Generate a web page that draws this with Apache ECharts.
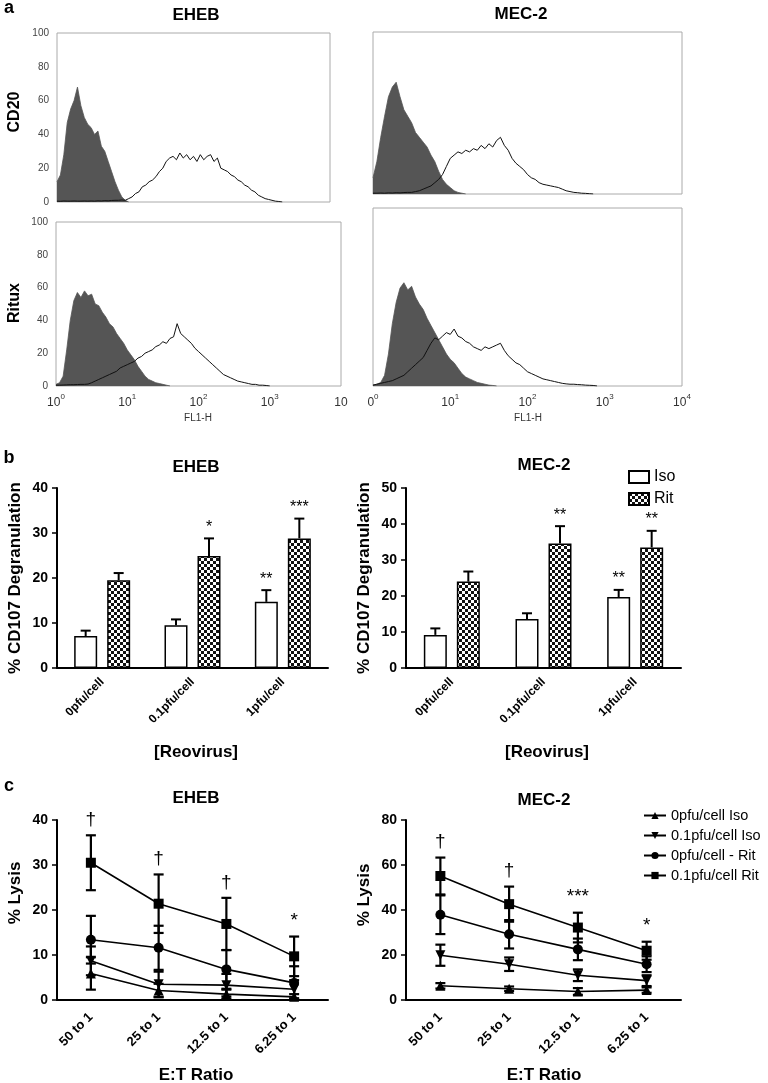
<!DOCTYPE html>
<html><head><meta charset="utf-8">
<script src="https://cdn.jsdelivr.net/npm/echarts@6/dist/echarts.min.js"></script>
<style>html,body{margin:0;padding:0;background:#fff}#c{width:768px;height:1083px}</style>
</head><body><div id="c"></div><script>
// ---------------- DATA ----------------
// Panel a: flow-cytometry histograms, FL1-H bins every 0.05 decade starting at 10^0
const HIST_STEP = 0.05;
const cd20EhebIso = [12,16,28,47,55,60,68,57,50,46,44,40,42,33,30,24,18,12,7,3,1,0];
const cd20EhebAb  = [0.5,0.4,0.6,0.5,0.5,0.6,0.5,0.5,0.6,0.5,0.6,0.5,0.7,0.6,0.8,0.7,0.9,1,1,1.2,1,2,3,5,6,9,10,12,13,15,18,20,24,26,27,25,29,26,28,25,27,24,28,25,27,28,24,26,20,19,18,16,15,13,12,10,9,7,6,4,3,2,1.5,1,0.5,0.3,0];
const cd20MecIso  = [10,20,35,48,60,66,69,60,52,48,44,38,35,32,29,24,20,14,9,6,4,2,1,0.5,0];
const cd20MecAb   = [0.5,0.5,0.6,0.5,0.7,0.6,0.8,0.7,0.9,1,1,1.5,2,3,4,5,7,9,12,17,22,24,26,25,27,26,28,27,30,28,31,29,33,35,30,27,22,19,17,15,12,10,9,7,6,5.5,5,4.5,4,3,2,1.5,1,0.8,0.5,0.4,0.2,0];
const ritEhebIso  = [1,2,6,22,40,52,57,54,58,55,56,50,49,45,42,38,36,32,29,26,22,19,16,12,9,6,4,3,2,1.5,1,0.5,0];
const ritEhebAb   = [0.5,0.5,0.6,0.7,0.8,0.8,0.9,1,1,1.2,2,3,4,5,6,7,8,9,11,12,13,14,15,17,18,20,21,22,24,25,27,26,29,30,38,32,30,28,26,23,21,19,17,15,13,11,9,7,6,5,4,3,2.5,2,1.5,1,1,0.5,0.5,0.3,0];
const ritMecIso   = [0.5,1,2,6,18,35,47,55,58,54,56,50,46,43,38,34,30,26,22,18,15,13,10,7,5,4,3,2,1.5,1,0.5,0.3,0];
const ritMecAb    = [0.5,1,1.5,2,2.5,3,4,5,6,8,10,12,14,16,20,24,27,26,28,30,29,32,28,27,25,24,22,21,20,22,21,22,23,24,20,17,15,13,12,10,8,7,6,5,4,3.5,3,2.5,2,1.5,1.2,1,1,0.8,0.7,0.5,0.4,0.3,0];
const ehebLogLabels = [['10','0'],['10','1'],['10','2'],['10','3'],['10','']];
const mecLogLabels  = [['0','0'],['10','1'],['10','2'],['10','3'],['10','4']];

// Panel b: % CD107 degranulation
const reoCats = ['0pfu/cell','0.1pfu/cell','1pfu/cell'];
const ehebIso = [7.1, 9.5, 14.7];   const ehebIsoErr = [1.2, 1.3, 2.6]; const ehebIsoSig = ['', '', '**'];
const ehebRit = [19.5, 24.9, 28.8]; const ehebRitErr = [1.6, 3.9, 4.4]; const ehebRitSig = ['', '*', '***'];
const mecIso  = [9.2, 13.6, 19.7];  const mecIsoErr  = [1.8, 1.6, 2.0]; const mecIsoSig  = ['', '', '**'];
const mecRit  = [24.0, 34.6, 33.5]; const mecRitErr  = [2.8, 4.8, 4.6]; const mecRitSig  = ['', '**', '**'];

// Panel c: % lysis
const etCats = ['50 to 1','25 to 1','12.5 to 1','6.25 to 1'];
const lysisNames = ['0pfu/cell Iso','0.1pfu/cell Iso','0pfu/cell - Rit','0.1pfu/cell Rit'];
const ehebLys0Iso  = [5.9, 2.1, 1.3, 0.7];    const ehebLys0IsoErr  = [3.6, 1.5, 1.0, 0.6];
const ehebLys01Iso = [8.7, 3.5, 3.3, 2.4];    const ehebLys01IsoErr = [3.2, 2.8, 2.5, 2.0];
const ehebLys0Rit  = [13.4, 11.6, 6.8, 3.8];  const ehebLys0RitErr  = [5.3, 4.9, 4.3, 3.7];
const ehebLys01Rit = [30.5, 21.4, 16.9, 9.7]; const ehebLys01RitErr = [6.1, 6.5, 5.8, 4.4];
const ehebLysSig = ['\u2020','\u2020','\u2020','*'];
const mecLys0Iso  = [6.3, 5.0, 3.8, 4.4];     const mecLys0IsoErr  = [1.2, 1.0, 1.5, 1.2];
const mecLys01Iso = [19.9, 15.9, 11.0, 8.6];  const mecLys01IsoErr = [4.7, 3.0, 2.6, 2.4];
const mecLys0Rit  = [37.9, 29.2, 22.5, 15.9]; const mecLys0RitErr  = [8.6, 6.3, 4.8, 3.5];
const mecLys01Rit = [55.1, 42.6, 32.2, 21.9]; const mecLys01RitErr = [8.2, 7.8, 6.6, 4.0];
const mecLysSig = ['\u2020','\u2020','***','*'];

// ---------------- STYLE / LAYOUT ----------------
const FONT = '"Liberation Sans", Arial, Helvetica, sans-serif';
const chart = echarts.init(document.getElementById('c'), null, {renderer: 'canvas'});

function checker() {
  const c = document.createElement('canvas'); c.width = 6; c.height = 6;
  const g = c.getContext('2d');
  g.fillStyle = '#fff'; g.fillRect(0, 0, 6, 6);
  g.fillStyle = '#111'; g.fillRect(0, 0, 3, 3); g.fillRect(3, 3, 3, 3);
  return c;
}
const ritFill = {image: checker(), repeat: 'repeat'};

const grids = [
  {left: 57,  top: 33,  width: 273, height: 169, show: true, borderColor: '#aaa', borderWidth: 1},
  {left: 373, top: 32,  width: 309, height: 162, show: true, borderColor: '#aaa', borderWidth: 1},
  {left: 56,  top: 222, width: 285, height: 164, show: true, borderColor: '#aaa', borderWidth: 1},
  {left: 373, top: 208, width: 309, height: 178, show: true, borderColor: '#aaa', borderWidth: 1},
  {left: 57,  top: 488, width: 271, height: 180},
  {left: 406, top: 488, width: 275, height: 180},
  {left: 57,  top: 820, width: 271, height: 180},
  {left: 406, top: 820, width: 275, height: 180}
];

function histX(i, labels) {
  return {
    type: 'value', gridIndex: i, min: 0, max: 4, interval: 1,
    axisLine: {show: false}, axisTick: {show: false}, splitLine: {show: false},
    axisLabel: labels ? {
      show: true, margin: 7, showMinLabel: true, showMaxLabel: true,
      formatter: v => { const l = labels[Math.round(v)]; return '{b|' + l[0] + '}{s|' + l[1] + '}'; },
      rich: {
        b: {fontSize: 12, color: '#333', fontFamily: FONT, lineHeight: 16, verticalAlign: 'bottom'},
        s: {fontSize: 8, color: '#333', fontFamily: FONT, lineHeight: 16, verticalAlign: 'top'}
      }
    } : {show: false}
  };
}
function histY(i, showLabels) {
  return {
    type: 'value', gridIndex: i, min: 0, max: 100, interval: 20,
    axisLine: {show: false}, axisTick: {show: false}, splitLine: {show: false},
    axisLabel: {show: showLabels, fontSize: 10, color: '#444', margin: 8, fontFamily: FONT}
  };
}
function catX(i, cats, fs, margin) {
  return {
    type: 'category', gridIndex: i, data: cats,
    axisLine: {lineStyle: {color: '#000', width: 2}},
    axisTick: {alignWithLabel: true, length: 5, lineStyle: {color: '#000', width: 1.5}},
    axisLabel: {rotate: 45, interval: 0, fontSize: fs, fontWeight: 'bold', color: '#000', fontFamily: FONT, margin: margin}
  };
}
function valY(i, max, interval, name) {
  return {
    type: 'value', gridIndex: i, min: 0, max: max, interval: interval,
    axisLine: {show: true, lineStyle: {color: '#000', width: 2}},
    axisTick: {show: true, length: 5, lineStyle: {color: '#000', width: 1.5}},
    splitLine: {show: false},
    axisLabel: {fontSize: 14, fontWeight: 'bold', color: '#000', fontFamily: FONT, margin: 9},
    name: name, nameLocation: 'middle', nameGap: 33,
    nameTextStyle: {fontSize: 17, fontWeight: 'bold', color: '#000', fontFamily: FONT}
  };
}

const toXY = arr => arr.map((v, i) => [i * HIST_STEP, v]);
function histSeries(i, iso, ab) {
  return [
    {type: 'line', xAxisIndex: i, yAxisIndex: i, data: toXY(iso), symbol: 'none', silent: true,
     lineStyle: {color: '#555', width: 0.8}, areaStyle: {color: '#555', opacity: 1}, z: 2},
    {type: 'line', xAxisIndex: i, yAxisIndex: i, data: toXY(ab), symbol: 'none', silent: true,
     lineStyle: {color: '#111', width: 1}, z: 3}
  ];
}

const BAR_W = 23, BAR_GAP_PX = 10;
const BAR_OFF = (BAR_W + BAR_GAP_PX) / 2;
function barSeries(i, name, vals, fill) {
  return {type: 'bar', name: name, xAxisIndex: i, yAxisIndex: i, data: vals,
    barWidth: BAR_W, barGap: (BAR_GAP_PX / BAR_W * 100) + '%',
    itemStyle: {color: fill, borderColor: '#000', borderWidth: 1.5}, z: 2};
}
function barErr(i, vals, errs, sigs, dx) {
  return {type: 'custom', xAxisIndex: i, yAxisIndex: i, silent: true, z: 4,
    data: vals.map((v, k) => [k, v, v + errs[k]]),
    renderItem(p, api) {
      const b = api.coord([api.value(0), api.value(1)]);
      const t = api.coord([api.value(0), api.value(2)]);
      const x = b[0] + dx, w = 5;
      const ch = [
        {type: 'line', shape: {x1: x, y1: b[1], x2: x, y2: t[1]}, style: {stroke: '#000', lineWidth: 2}},
        {type: 'line', shape: {x1: x - w, y1: t[1], x2: x + w, y2: t[1]}, style: {stroke: '#000', lineWidth: 2}}
      ];
      const s = sigs[p.dataIndex];
      if (s) ch.push({type: 'text', style: {text: s, x: x, y: t[1] - 3, align: 'center', verticalAlign: 'bottom', font: '16px ' + FONT, fill: '#000'}});
      return {type: 'group', children: ch};
    }};
}

const lineStyles = [
  {symbol: 'triangle', rotate: 0, size: 10},
  {symbol: 'triangle', rotate: 180, size: 10},
  {symbol: 'circle', rotate: 0, size: 10},
  {symbol: 'rect', rotate: 0, size: 10}
];
function lysisSeries(i, k, vals) {
  const st = lineStyles[k];
  return {type: 'line', name: lysisNames[k], xAxisIndex: i, yAxisIndex: i, data: vals,
    symbol: st.symbol, symbolRotate: st.rotate, symbolSize: st.size, z: 5,
    lineStyle: {color: '#000', width: 1.6}, itemStyle: {color: '#000'}};
}
function lysisErr(i, vals, errs, sigs) {
  return {type: 'custom', xAxisIndex: i, yAxisIndex: i, silent: true, z: 4,
    data: vals.map((v, k) => [k, Math.max(0, v - errs[k]), v + errs[k]]),
    renderItem(p, api) {
      const lo = api.coord([api.value(0), api.value(1)]);
      const hi = api.coord([api.value(0), api.value(2)]);
      const x = lo[0], w = 5;
      const ch = [
        {type: 'line', shape: {x1: x, y1: lo[1], x2: x, y2: hi[1]}, style: {stroke: '#000', lineWidth: 2.2}},
        {type: 'line', shape: {x1: x - w, y1: hi[1], x2: x + w, y2: hi[1]}, style: {stroke: '#000', lineWidth: 2.2}},
        {type: 'line', shape: {x1: x - w, y1: lo[1], x2: x + w, y2: lo[1]}, style: {stroke: '#000', lineWidth: 2.2}}
      ];
      if (sigs && sigs[p.dataIndex]) ch.push({type: 'text', style: {text: sigs[p.dataIndex], x: x, y: hi[1] - 6, align: 'center', verticalAlign: 'bottom', font: '19px ' + FONT, fill: '#000'}});
      return {type: 'group', children: ch};
    }};
}

function txt(t, x, y, font, rot, fill) {
  return {type: 'text', x: x, y: y, rotation: rot || 0, silent: true,
    style: {text: t, font: font, fill: fill || '#000', align: 'center', verticalAlign: 'middle'}};
}
const TITLE = 'bold 17px ' + FONT;

const lysisY = (i, max, interval) => valY(i, max, interval, '');

const option = {
  animation: false,
  backgroundColor: '#fff',
  grid: grids,
  xAxis: [
    histX(0, null), histX(1, null), histX(2, ehebLogLabels), histX(3, mecLogLabels),
    catX(4, reoCats, 12, 12), catX(5, reoCats, 12, 12), catX(6, etCats, 13, 15), catX(7, etCats, 13, 15)
  ],
  yAxis: [
    histY(0, true), histY(1, false), histY(2, true), histY(3, false),
    valY(4, 40, 10, '% CD107 Degranulation'), valY(5, 50, 10, '% CD107 Degranulation'),
    lysisY(6, 40, 10), lysisY(7, 80, 20)
  ],
  legend: [
    {data: ['Iso', 'Rit'], left: 623, top: 464, orient: 'vertical', icon: 'rect',
     itemWidth: 20, itemHeight: 12, itemGap: 6, selectedMode: false,
     textStyle: {fontSize: 16, color: '#000', fontFamily: FONT}},
    {data: lysisNames, left: 638, top: 803, orient: 'vertical',
     itemWidth: 22, itemHeight: 9, itemGap: 5, selectedMode: false,
     textStyle: {fontSize: 14.5, color: '#000', fontFamily: FONT}}
  ],
  series: [].concat(
    histSeries(0, cd20EhebIso, cd20EhebAb),
    histSeries(1, cd20MecIso, cd20MecAb),
    histSeries(2, ritEhebIso, ritEhebAb),
    histSeries(3, ritMecIso, ritMecAb),
    [
      barSeries(4, 'Iso', ehebIso, '#fff'), barSeries(4, 'Rit', ehebRit, ritFill),
      barErr(4, ehebIso, ehebIsoErr, ehebIsoSig, -BAR_OFF), barErr(4, ehebRit, ehebRitErr, ehebRitSig, BAR_OFF),
      barSeries(5, 'Iso', mecIso, '#fff'), barSeries(5, 'Rit', mecRit, ritFill),
      barErr(5, mecIso, mecIsoErr, mecIsoSig, -BAR_OFF), barErr(5, mecRit, mecRitErr, mecRitSig, BAR_OFF),

      lysisSeries(6, 0, ehebLys0Iso), lysisSeries(6, 1, ehebLys01Iso), lysisSeries(6, 2, ehebLys0Rit), lysisSeries(6, 3, ehebLys01Rit),
      lysisErr(6, ehebLys0Iso, ehebLys0IsoErr), lysisErr(6, ehebLys01Iso, ehebLys01IsoErr),
      lysisErr(6, ehebLys0Rit, ehebLys0RitErr), lysisErr(6, ehebLys01Rit, ehebLys01RitErr, ehebLysSig),

      lysisSeries(7, 0, mecLys0Iso), lysisSeries(7, 1, mecLys01Iso), lysisSeries(7, 2, mecLys0Rit), lysisSeries(7, 3, mecLys01Rit),
      lysisErr(7, mecLys0Iso, mecLys0IsoErr), lysisErr(7, mecLys01Iso, mecLys01IsoErr),
      lysisErr(7, mecLys0Rit, mecLys0RitErr), lysisErr(7, mecLys01Rit, mecLys01RitErr, mecLysSig)
    ]
  ),
  graphic: [
    txt('a', 9, 8, 'bold 18px ' + FONT),
    txt('b', 9, 458, 'bold 18px ' + FONT),
    txt('c', 9, 786, 'bold 18px ' + FONT),
    txt('EHEB', 196, 15, TITLE), txt('MEC-2', 521, 14, TITLE),
    txt('EHEB', 196, 467, TITLE), txt('MEC-2', 544, 465, TITLE),
    txt('EHEB', 196, 798, TITLE), txt('MEC-2', 544, 800, TITLE),
    txt('CD20', 15, 112, 'bold 16px ' + FONT, Math.PI / 2),
    txt('Ritux', 15, 303, 'bold 16px ' + FONT, Math.PI / 2),
    txt('FL1-H', 198, 418, '10px ' + FONT, 0, '#333'),
    txt('FL1-H', 528, 418, '10px ' + FONT, 0, '#333'),
    txt('% Lysis', 15, 893, 'bold 17px ' + FONT, Math.PI / 2),
    txt('% Lysis', 364, 895, 'bold 17px ' + FONT, Math.PI / 2),
    txt('[Reovirus]', 196, 752, TITLE), txt('[Reovirus]', 547, 752, TITLE),
    txt('E:T Ratio', 196, 1075, TITLE), txt('E:T Ratio', 544, 1075, TITLE)
  ]
};
chart.setOption(option);
</script></body></html>
